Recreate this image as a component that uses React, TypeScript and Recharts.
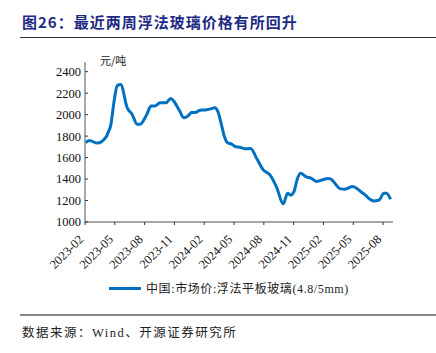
import React from 'react';
import { LineChart, Line, XAxis, YAxis } from 'recharts';

// month index: 0 = 2023-02, one unit per month
const months = [
  0.07, 0.43, 1.24, 2.18, 2.31, 2.59, 2.92, 3.25, 3.59, 4.26, 4.7, 5.26, 5.53, 6.21, 6.64, 7.04,
  7.55, 8.15, 8.62, 8.98, 9.49, 9.96, 10.39, 10.73, 11.07, 11.57, 12.24, 12.91, 13.08, 13.41,
  13.75, 13.98, 14.32, 14.76, 15.19, 15.59, 16.1, 16.67, 17.27, 17.94, 18.61, 19.29, 19.95,
  20.39, 20.69, 21.03, 21.36, 21.7, 22.23, 22.81, 23.31, 23.81, 24.48, 24.75, 25.15, 25.65,
  26.16, 26.93, 27.33, 27.84, 28.17, 28.67, 29.07, 29.61, 30.08, 30.35, 30.75,
];
const prices = [
  1740, 1760, 1735, 1800, 1830, 1900, 2120, 2270, 2280, 2060, 2010, 1910, 1910, 2000, 2080, 2080,
  2110, 2110, 2150, 2120, 2040, 1970, 1990, 2020, 2020, 2040, 2045, 2060, 2065, 2020,
  1900, 1812, 1740, 1725, 1700, 1697, 1681, 1685, 1594, 1485, 1439, 1323, 1168,
  1268, 1250, 1283, 1398, 1454, 1423, 1405, 1377, 1390, 1405, 1400, 1361, 1311,
  1306, 1330, 1315, 1277, 1255, 1212, 1196, 1205, 1268, 1268, 1212,
];
const tickLabels = [
  '2023-02', '2023-05', '2023-08', '2023-11', '2024-02', '2024-05',
  '2024-08', '2024-11', '2025-02', '2025-05', '2025-08',
];
const yTicks = [1000, 1200, 1400, 1600, 1800, 2000, 2200, 2400];
const seriesName = '中国:市场价:浮法平板玻璃(4.8/5mm)';

const data = months.map((m, i) => ({ m, price: prices[i] }));
const xTicks = tickLabels.map((_, i) => i * 3);

const SERIF = "'Liberation Serif', 'Noto Sans CJK SC', serif";
const CJK = "'Noto Sans CJK SC', sans-serif";

const XTick = ({ x, y, payload }: any) => (
  <g transform={`translate(${x - 4},${y + 9}) rotate(-45)`}>
    <text x={0} y={0} dy="0.35em" textAnchor="end" fontSize={12.5} fontFamily={SERIF} fill="#111">
      {tickLabels[Math.round(payload.value / 3)]}
    </text>
  </g>
);

export default function App() {
  return (
    <div style={{ position: 'absolute', left: 0, top: 0, width: 436, height: 353, background: '#fff' }}>
      <div
        style={{
          position: 'absolute', left: 22, top: 12, fontSize: 15, fontWeight: 700, fontFamily: CJK,
          color: '#1E2B84', letterSpacing: 1, lineHeight: '20px', whiteSpace: 'nowrap',
        }}
      >
        图26：最近两周浮法玻璃价格有所回升
      </div>
      <div style={{ position: 'absolute', left: 20, right: 0, top: 37, height: 1, background: '#333' }} />
      <div
        style={{
          position: 'absolute', left: 100, top: 52, fontSize: 11, fontFamily: CJK, color: '#222',
          lineHeight: '16px', whiteSpace: 'nowrap',
        }}
      >
        元/吨
      </div>
      <LineChart width={436} height={353} data={data} margin={{ top: 62, right: 43, bottom: 71, left: 40 }}>
        <XAxis
          type="number"
          dataKey="m"
          domain={[0, 31]}
          ticks={xTicks}
          interval={0}
          tick={<XTick />}
          tickSize={3}
          tickMargin={3}
          height={60}
          stroke="#888"
          strokeWidth={1.5}
          tickLine={{ stroke: '#333', strokeWidth: 1 }}
        />
        <YAxis
          domain={[1000, 2490]}
          ticks={yTicks}
          interval={0}
          width={45}
          tickSize={-3}
          tickMargin={7}
          stroke="#555"
          tickLine={{ stroke: '#333' }}
          tick={{ fontSize: 12.5, fontFamily: SERIF, fill: '#111' }}
          allowDataOverflow
        />
        <Line
          type="monotone"
          dataKey="price"
          name={seriesName}
          stroke="#0070C0"
          strokeWidth={3}
          dot={false}
          isAnimationActive={false}
        />
      </LineChart>
      <div style={{ position: 'absolute', left: 109, top: 280, display: 'flex', alignItems: 'center', height: 16 }}>
        <div style={{ width: 32, height: 3, background: '#0070C0', marginRight: 5 }} />
        <span style={{ fontSize: 12, fontFamily: SERIF, color: '#222', letterSpacing: 0.6, whiteSpace: 'nowrap' }}>
          {seriesName}
        </span>
      </div>
      <div style={{ position: 'absolute', left: 20, right: 0, top: 314, height: 1.5, background: '#888' }} />
      <div
        style={{
          position: 'absolute', left: 22, top: 325, fontSize: 12.5, fontFamily: SERIF, color: '#222',
          letterSpacing: 1.5, lineHeight: '16px', whiteSpace: 'nowrap',
        }}
      >
        数据来源：Wind、开源证券研究所
      </div>
    </div>
  );
}
